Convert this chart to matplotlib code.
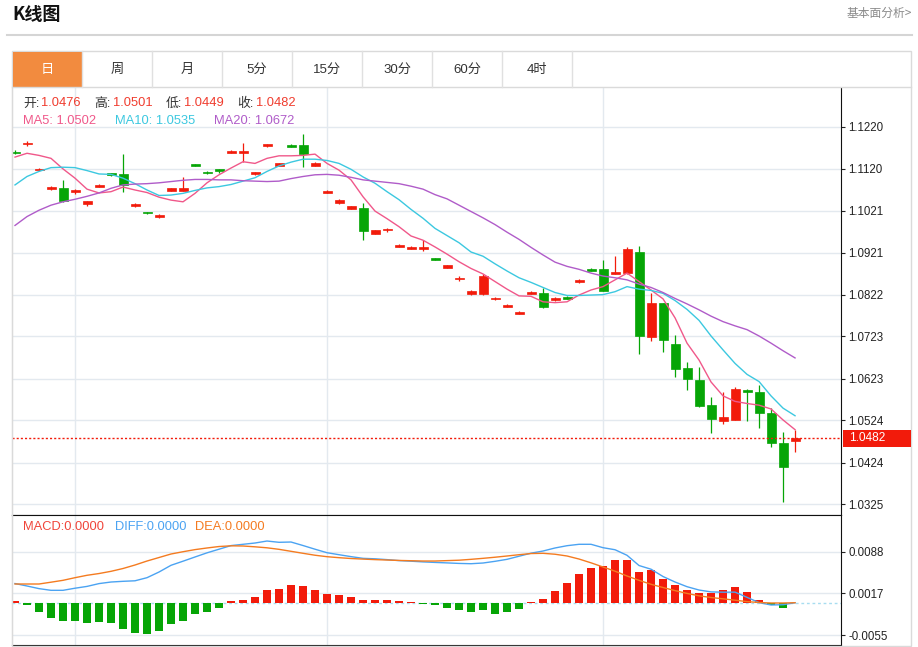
import matplotlib
matplotlib.use('Agg')
import matplotlib.pyplot as plt
import matplotlib.transforms as mtransforms
from matplotlib.patches import Rectangle
from matplotlib.lines import Line2D
import numpy as np

plt.rcParams['font.family'] = ['Liberation Sans', 'Noto Sans CJK SC', 'DejaVu Sans']

# ---------------- data ----------------
opens = [1.1161, 1.1179, 1.1117, 1.1073, 1.1075, 1.1065, 1.1037, 1.1078, 1.1110, 1.1108,
         1.1031, 1.1018, 1.1005, 1.1068, 1.1068, 1.1131, 1.1113, 1.1119, 1.1158, 1.1158,
         1.1108, 1.1174, 1.1127, 1.1177, 1.1177, 1.1128, 1.1064, 1.1038, 1.1026, 1.1028,
         1.0966, 1.0974, 1.0935, 1.0931, 1.0931, 1.0909, 1.0886, 1.0859, 1.0823, 1.0823,
         1.0812, 1.0793, 1.0776, 1.0824, 1.0826, 1.0809, 1.0817, 1.0852, 1.0883, 1.0883,
         1.0871, 1.0873, 1.0923, 1.0722, 1.0802, 1.0706, 1.0647, 1.0620, 1.0560, 1.0523,
         1.0525, 1.0597, 1.0592, 1.0542, 1.0471, 1.0476]
highs = [1.1164, 1.1186, 1.1122, 1.1080, 1.1094, 1.1072, 1.1045, 1.1084, 1.1111, 1.1155,
         1.1038, 1.1019, 1.1013, 1.1075, 1.1101, 1.1132, 1.1116, 1.1120, 1.1164, 1.1182,
         1.1113, 1.1180, 1.1134, 1.1178, 1.1203, 1.1136, 1.1070, 1.1048, 1.1032, 1.1038,
         1.0976, 1.0980, 1.0941, 1.0937, 1.0951, 1.0910, 1.0893, 1.0867, 1.0832, 1.0870,
         1.0817, 1.0799, 1.0783, 1.0830, 1.0837, 1.0816, 1.0818, 1.0859, 1.0885, 1.0905,
         1.0914, 1.0936, 1.0937, 1.0825, 1.0803, 1.0726, 1.0663, 1.0651, 1.0580, 1.0592,
         1.0604, 1.0598, 1.0608, 1.0553, 1.0496, 1.0501]
lows = [1.1155, 1.1175, 1.1115, 1.1071, 1.1042, 1.1060, 1.1033, 1.1076, 1.1104, 1.1066,
        1.1030, 1.1014, 1.1003, 1.1067, 1.1067, 1.1127, 1.1108, 1.1111, 1.1157, 1.1136,
        1.1106, 1.1173, 1.1126, 1.1172, 1.1125, 1.1126, 1.1063, 1.1037, 1.1025, 1.0951,
        1.0965, 1.0970, 1.0934, 1.0929, 1.0926, 1.0904, 1.0885, 1.0855, 1.0822, 1.0822,
        1.0810, 1.0792, 1.0775, 1.0823, 1.0791, 1.0807, 1.0811, 1.0849, 1.0878, 1.0830,
        1.0870, 1.0871, 1.0681, 1.0713, 1.0687, 1.0627, 1.0595, 1.0555, 1.0495, 1.0516,
        1.0524, 1.0523, 1.0505, 1.0462, 1.0331, 1.0449]
closes = [1.1158, 1.1182, 1.1120, 1.1078, 1.1045, 1.1070, 1.1044, 1.1082, 1.1106, 1.1082,
          1.1037, 1.1015, 1.1011, 1.1074, 1.1074, 1.1128, 1.1110, 1.1115, 1.1162, 1.1163,
          1.1112, 1.1179, 1.1133, 1.1173, 1.1155, 1.1135, 1.1068, 1.1046, 1.1031, 1.0973,
          1.0974, 1.0978, 1.0940, 1.0935, 1.0934, 1.0905, 1.0892, 1.0862, 1.0831, 1.0866,
          1.0815, 1.0798, 1.0782, 1.0829, 1.0792, 1.0815, 1.0812, 1.0857, 1.0879, 1.0831,
          1.0876, 1.0929, 1.0724, 1.0802, 1.0714, 1.0646, 1.0621, 1.0559, 1.0527, 1.0531,
          1.0598, 1.0592, 1.0541, 1.0471, 1.0413, 1.0482]
ma5 = [1.1148, 1.1157, 1.1152, 1.1145, 1.1120, 1.1098, 1.1072, 1.1063, 1.1066, 1.1077,
       1.1070, 1.1064, 1.1053, 1.1046, 1.1042, 1.1062, 1.1087, 1.1106, 1.1122, 1.1137,
       1.1133, 1.1145, 1.1151, 1.1151, 1.1152, 1.1155, 1.1133, 1.1117, 1.1094, 1.1054,
       1.1020, 1.1002, 1.0983, 1.0961, 1.0951, 1.0935, 1.0918, 1.0900, 1.0884, 1.0871,
       1.0853, 1.0835, 1.0819, 1.0818, 1.0805, 1.0803, 1.0805, 1.0821, 1.0833, 1.0841,
       1.0857, 1.0873, 1.0853, 1.0833, 1.0812, 1.0767, 1.0707, 1.0667, 1.0615, 1.0582,
       1.0569, 1.0564, 1.0560, 1.0551, 1.0525, 1.0502]
ma10 = [1.1082, 1.1102, 1.1114, 1.1123, 1.1124, 1.1123, 1.1116, 1.1108, 1.1107, 1.1098,
        1.1085, 1.1070, 1.1057, 1.1058, 1.1062, 1.1069, 1.1075, 1.1078, 1.1083, 1.1091,
        1.1099, 1.1114, 1.1127, 1.1136, 1.1143, 1.1143, 1.1140, 1.1133, 1.1119, 1.1101,
        1.1086, 1.1066, 1.1047, 1.1024, 1.1003, 1.0979, 1.0962, 1.0945, 1.0923, 1.0913,
        1.0895, 1.0878, 1.0862, 1.0851, 1.0839, 1.0827, 1.0820, 1.0820, 1.0821, 1.0822,
        1.0829, 1.0841, 1.0835, 1.0832, 1.0825, 1.0808, 1.0787, 1.0761, 1.0724, 1.0691,
        1.0659, 1.0633, 1.0616, 1.0582, 1.0553, 1.0535]
ma20 = [1.0986, 1.1007, 1.1022, 1.1034, 1.1042, 1.1048, 1.1055, 1.1063, 1.1074, 1.1082,
        1.1084, 1.1085, 1.1087, 1.1090, 1.1093, 1.1095, 1.1095, 1.1094, 1.1094, 1.1092,
        1.1091, 1.1090, 1.1091, 1.1097, 1.1102, 1.1106, 1.1107, 1.1105, 1.1100, 1.1094,
        1.1091, 1.1088, 1.1085, 1.1079, 1.1072, 1.1059, 1.1049, 1.1034, 1.1019, 1.1004,
        1.0988, 1.0970, 1.0953, 1.0934, 1.0916, 1.0899, 1.0889, 1.0882, 1.0873, 1.0866,
        1.0862, 1.0857, 1.0847, 1.0839, 1.0827, 1.0813, 1.0800, 1.0786, 1.0771, 1.0758,
        1.0748, 1.0739, 1.0724, 1.0707, 1.0689, 1.0672]
diff = [0.00333, 0.00291, 0.00246, 0.00217, 0.00217, 0.00253, 0.00284, 0.00332, 0.00359, 0.00371,
        0.00380, 0.00433, 0.00530, 0.00645, 0.00715, 0.00787, 0.00858, 0.00920, 0.00982, 0.01004,
        0.01026, 0.01060, 0.01038, 0.01043, 0.00983, 0.00920, 0.00860, 0.00826, 0.00793, 0.00764,
        0.00756, 0.00742, 0.00725, 0.00715, 0.00703, 0.00694, 0.00686, 0.00677, 0.00672, 0.00684,
        0.00713, 0.00747, 0.00800, 0.00852, 0.00889, 0.00941, 0.00980, 0.01004, 0.01004, 0.00946,
        0.00911, 0.00816, 0.00641, 0.00578, 0.00453, 0.00359, 0.00279, 0.00222, 0.00190, 0.00185,
        0.00186, 0.00097, 0.00007, -0.00034, -0.00029, 0.00005]
dea = [0.00325, 0.00325, 0.00325, 0.00356, 0.00388, 0.00433, 0.00474, 0.00504, 0.00542, 0.00590,
       0.00650, 0.00718, 0.00778, 0.00838, 0.00877, 0.00913, 0.00941, 0.00966, 0.00978, 0.00975,
       0.00961, 0.00944, 0.00918, 0.00884, 0.00850, 0.00817, 0.00792, 0.00775, 0.00761, 0.00751,
       0.00742, 0.00735, 0.00728, 0.00723, 0.00718, 0.00718, 0.00725, 0.00732, 0.00747, 0.00764,
       0.00783, 0.00804, 0.00826, 0.00846, 0.00850, 0.00834, 0.00804, 0.00752, 0.00687, 0.00616,
       0.00544, 0.00462, 0.00388, 0.00320, 0.00265, 0.00212, 0.00164, 0.00123, 0.00094, 0.00072,
       0.00048, 0.00024, 0.00009, 0.00000, 0.00000, 0.00005]
macd = [0.0003, -0.0003, -0.0016, -0.0026, -0.0030, -0.0030, -0.0034, -0.0032, -0.0035, -0.0044,
        -0.0052, -0.0053, -0.0048, -0.0036, -0.0030, -0.0019, -0.0016, -0.0008, 0.0003, 0.0006,
        0.0010, 0.0022, 0.0024, 0.0031, 0.0029, 0.0023, 0.0015, 0.0013, 0.0010, 0.0005,
        0.0006, 0.0006, 0.0003, 0.0002, -0.0001, -0.0004, -0.0009, -0.0012, -0.0015, -0.0012,
        -0.0018, -0.0015, -0.0010, 0.0001, 0.0007, 0.0021, 0.0034, 0.0050, 0.0060, 0.0064,
        0.0074, 0.0073, 0.0053, 0.0056, 0.0041, 0.0030, 0.0023, 0.0017, 0.0017, 0.0022,
        0.0027, 0.0019, 0.0005, -0.0004, -0.0008, 0.0000]
price_ticks = [1.1220, 1.1120, 1.1021, 1.0921, 1.0822, 1.0723, 1.0623, 1.0524, 1.0424, 1.0325]
macd_ticks = [0.0088, 0.0017, -0.0055]
month_starts = [5, 26, 49]
tabs = ['日', '周', '月', '5分', '15分', '30分', '60分', '4时']
header_ohlc = [('开:', '1.0476'), ('高:', '1.0501'), ('低:', '1.0449'), ('收:', '1.0482')]
header_ma = [('MA5: 1.0502', '#F0588A'), ('MA10: 1.0535', '#3CC8E0'), ('MA20: 1.0672', '#B05CC9')]
header_macd = [('MACD:0.0000', '#F0453A'), ('DIFF:0.0000', '#4BA3F2'), ('DEA:0.0000', '#F47B20')]

# ---------------- styling ----------------
W, H = 918, 647
RED = '#F21B0B'
GREEN = '#06A506'
GRID = '#E3E9EF'

def fx(x):
    return x / W

def fy(y):
    return 1 - y / H

fig = plt.figure(figsize=(W / 100, H / 100), dpi=100)
fig.patch.set_facecolor('white')

ax = fig.add_axes([fx(12), fy(515), fx(841) - fx(12), fy(88) - fy(515)])
ax2 = fig.add_axes([fx(12), fy(645), fx(841) - fx(12), fy(515) - fy(645)])

n = len(closes)
idx = np.arange(n)

# ---- price pane ----
for i in range(n):
    o, h, l, c = opens[i], highs[i], lows[i], closes[i]
    col = RED if c >= o else GREEN
    ax.vlines(i, l, h, color=col, lw=0.9, zorder=3)
    ax.bar(i, abs(c - o), bottom=min(o, c), width=0.75, color=col,
           edgecolor=col, lw=0.5, zorder=4)

ax.plot(idx, ma5, color='#F0588A', lw=1.0, zorder=5)
ax.plot(idx, ma10, color='#3CC8E0', lw=1.0, zorder=5)
ax.plot(idx, ma20, color='#B05CC9', lw=1.0, zorder=5)

last = closes[-1]
ax.axhline(last, color=RED, lw=1.0, ls=(0, (1.5, 1.5)), zorder=6)

ax.set_xlim(-0.25, 68.83)
ax.set_ylim(1.029973, 1.131172)
ax.set_yticks(price_ticks)
ax.set_yticklabels([f'{t:.4f}' for t in price_ticks])
ax.yaxis.tick_right()
ax.tick_params(axis='y', length=3, width=0.8, colors='#222222', labelsize=8.3, pad=2.5)
ax.set_xticks([])
ax.grid(axis='y', color=GRID, lw=1, zorder=0)
for m in month_starts:
    ax.axvline(m, color=GRID, lw=1, zorder=0)
for s in ['top']:
    ax.spines[s].set_visible(False)
ax.spines['left'].set_color('#D6D6D6')
ax.spines['right'].set_color('#111111')
ax.spines['bottom'].set_color('#111111')

# last price tag
blend = mtransforms.blended_transform_factory(fig.transFigure, ax.transData)
hh = 0.00403
fig.add_artist(Rectangle((fx(843), last - hh / 2), fx(911) - fx(843), hh,
                         transform=blend, facecolor=RED, edgecolor='none', zorder=10))
fig.text(fx(849), last, f'{last:.4f}', transform=blend, color='white',
         fontsize=8.6, va='center', ha='left', zorder=11)

# ---- MACD pane ----
ax2.bar(idx, macd, width=0.7, color=[RED if v >= 0 else GREEN for v in macd], zorder=3)
ax2.plot(idx, diff, color='#4BA3F2', lw=1.0, zorder=4)
ax2.plot(idx, dea, color='#F47B20', lw=1.0, zorder=4)
ax2.axhline(0, color='#A8DDF0', lw=1.0, ls=(0, (2, 2)), zorder=2)
ax2.set_xlim(-0.25, 68.83)
ax2.set_ylim(-0.00718, 0.01505)
ax2.set_yticks(macd_ticks)
ax2.set_yticklabels([f'{t:.4f}' for t in macd_ticks])
ax2.yaxis.tick_right()
ax2.tick_params(axis='y', length=3, width=0.8, colors='#222222', labelsize=8.3, pad=2.5)
ax2.set_xticks([])
ax2.grid(axis='y', color=GRID, lw=1, zorder=0)
for m in month_starts:
    ax2.axvline(m, color=GRID, lw=1, zorder=0)
ax2.spines['left'].set_color('#D6D6D6')
for s in ['top', 'right', 'bottom']:
    ax2.spines[s].set_color('#111111')

# ---------------- page chrome ----------------
fig.text(fx(12), fy(14), 'K线图', fontsize=13, fontweight='bold', color='#111111',
         va='center', ha='left', family=['Noto Sans CJK SC'])
fig.text(fx(912), fy(13), '基本面分析>', fontsize=8.5, color='#8A8A8A',
         va='center', ha='right', family=['Noto Sans CJK SC', 'DejaVu Sans'])
fig.add_artist(Line2D([fx(7), fx(912)], [fy(34.5), fy(34.5)], color='#D5D5D5', lw=1.5))

# outer frame
fig.add_artist(Rectangle((fx(12), fy(646)), fx(911) - fx(12), fy(51) - fy(646),
                         transform=fig.transFigure, fill=False, edgecolor='#DADADA', lw=1))
# tab bar
fig.add_artist(Line2D([fx(12), fx(911)], [fy(87), fy(87)], color='#DADADA', lw=1))
fig.add_artist(Rectangle((fx(13), fy(87)), fx(82) - fx(13), fy(52) - fy(87),
                         transform=fig.transFigure, facecolor='#F28B3F', edgecolor='none'))
for k, lab in enumerate(tabs):
    x0 = 12 + 70 * k
    fig.add_artist(Line2D([fx(x0 + 70), fx(x0 + 70)], [fy(51), fy(87)], color='#E0E0E0', lw=1))
    fig.text(fx(x0 + 35), fy(69.5), lab, fontsize=9.5, ha='center', va='center',
             color='white' if k == 0 else '#333333',
             family=['Liberation Sans', 'Noto Sans CJK SC'])

# headers
ohlc_x = [(23, 41.5), (94.5, 113), (165.5, 184), (237, 256)]
for (lab, val), (x1, x2) in zip(header_ohlc, ohlc_x):
    fig.text(fx(x1), fy(103.5), lab, fontsize=9.3, color='#333333', va='center', ha='left')
    fig.text(fx(x2), fy(103.5), val, fontsize=9.3, color='#F03C2E', va='center', ha='left')
for (txt, col), x in zip(header_ma, [23, 115, 214]):
    fig.text(fx(x), fy(121.5), txt, fontsize=9.3, color=col, va='center', ha='left')
for (txt, col), x in zip(header_macd, [23, 115, 195]):
    fig.text(fx(x), fy(526.5), txt, fontsize=9.3, color=col, va='center', ha='left')

fig.savefig('out.png', dpi=100, facecolor='white')
